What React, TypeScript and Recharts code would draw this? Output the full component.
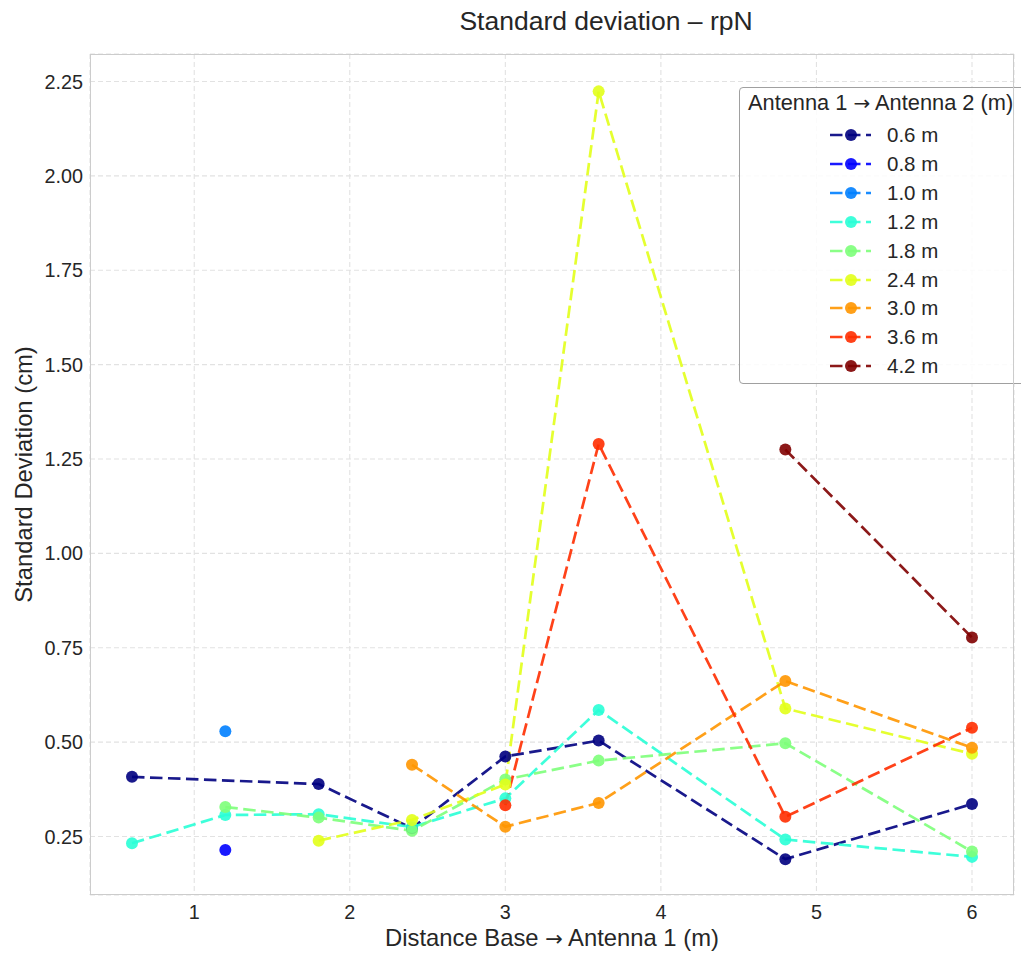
import { CartesianGrid, Legend, Line, LineChart, XAxis, YAxis } from "recharts";

// distance base -> antenna 1 (m)
const distances = [0.6, 1.2, 1.8, 2.4, 3.0, 3.6, 4.8, 6.0];

// std deviation (cm), one array per antenna1->antenna2 spacing
const sd06 = [0.408, null, 0.389, 0.272, 0.462, 0.504, 0.19, 0.336];
const sd08 = [null, 0.214, null, null, null, null, null, null];
const sd10 = [null, 0.529, null, null, null, null, null, null];
const sd12 = [0.232, 0.307, 0.309, 0.275, 0.351, 0.585, 0.242, 0.196];
const sd18 = [null, 0.328, 0.3, 0.265, 0.401, 0.451, 0.497, 0.21];
const sd24 = [null, null, 0.239, 0.294, 0.388, 2.224, 0.589, 0.469];
const sd30 = [null, null, null, 0.44, 0.276, 0.339, 0.662, 0.485];
const sd36 = [null, null, null, null, 0.333, 1.29, 0.302, 0.538];
const sd42 = [null, null, null, null, null, null, 1.275, 0.777];

const seriesNames = ["0.6 m", "0.8 m", "1.0 m", "1.2 m", "1.8 m", "2.4 m", "3.0 m", "3.6 m", "4.2 m"];
const seriesValues = [sd06, sd08, sd10, sd12, sd18, sd24, sd30, sd36, sd42];
const seriesColors = [
  "#00007f",
  "#0000ff",
  "#0080ff",
  "#29ffd6",
  "#7dff7a",
  "#e2ff1a",
  "#ff9600",
  "#ff2e00",
  "#7f0000",
];

const xTicks = [1, 2, 3, 4, 5, 6];
const yTicks = [0.25, 0.5, 0.75, 1.0, 1.25, 1.5, 1.75, 2.0, 2.25];

const rows = distances.map((x, i) => {
  const row: Record<string, number | null> = { x };
  seriesNames.forEach((name, s) => {
    row[name] = seriesValues[s][i];
  });
  return row;
});

const FONT = '"Liberation Sans", Arial, Helvetica, sans-serif';
const ARROW_FONT = '"DejaVu Sans", sans-serif';
const TEXT = "#262626";
const DASH = "12.5 5.5";

function makeDot(color: string) {
  return (props: any) => {
    const { cx, cy, key, value } = props;
    if (value == null || cx == null || cy == null) return <g key={key} />;
    return <circle key={key} cx={cx} cy={cy} r={6} fill={color} fillOpacity={0.9} stroke="none" />;
  };
}

function LegendBox() {
  return (
    <div
      style={{
        width: 300,
        height: 297,
        boxSizing: "border-box",
        border: "1.3px solid #a0a0a0",
        borderRadius: 4,
        background: "rgba(255,255,255,0.85)",
        fontFamily: FONT,
        color: TEXT,
        position: "relative",
      }}
    >
      <div style={{ position: "absolute", left: 8, top: 2, fontSize: 21.8, whiteSpace: "nowrap" }}>
        Antenna 1 <span style={{ fontFamily: ARROW_FONT, fontSize: 20 }}>→</span> Antenna 2 (m)
      </div>
      {seriesNames.map((name, i) => (
        <div
          key={name}
          style={{ position: "absolute", left: 0, top: 33 + i * 28.9, height: 28, width: 280 }}
        >
          <svg width={50} height={28} style={{ position: "absolute", left: 88, top: 0 }}>
            <line x1={2} x2={43} y1={14} y2={14} stroke={seriesColors[i]} strokeOpacity={0.9} strokeWidth={2.7} strokeDasharray={DASH} />
            <circle cx={23} cy={14} r={6} fill={seriesColors[i]} fillOpacity={0.9} />
          </svg>
          <span style={{ position: "absolute", left: 147, top: 2, fontSize: 20.5, whiteSpace: "nowrap" }}>
            {name}
          </span>
        </div>
      ))}
    </div>
  );
}

function XLabel() {
  return (
    <text x={552} y={946} textAnchor="middle" fill={TEXT} fontSize={23.8} fontFamily={FONT}>
      Distance Base{" "}
      <tspan fontFamily={ARROW_FONT} fontSize={21}>→</tspan>{" "}
      Antenna 1 (m)
    </text>
  );
}

export default function App() {
  return (
    <div style={{ position: "absolute", left: 0, top: 0, width: 1021, height: 954, background: "#fff" }}>
      <div
        style={{
          position: "absolute",
          left: 406,
          width: 400,
          top: 6,
          textAlign: "center",
          fontFamily: FONT,
          fontSize: 26.5,
          color: TEXT,
          whiteSpace: "nowrap",
        }}
      >
        Standard deviation – rpN
      </div>
      <LineChart
        width={1021}
        height={954}
        data={rows}
        margin={{ top: 54, right: 7, left: 0, bottom: 0 }}
        style={{ fontFamily: FONT }}
      >
        <CartesianGrid stroke="#e2e2e2" strokeWidth={1.1} strokeDasharray="5 3" />
        <XAxis
          dataKey="x"
          type="number"
          domain={[0.33, 6.27]}
          ticks={xTicks}
          allowDataOverflow
          axisLine={false}
          tickLine={false}
          tickSize={0}
          tickMargin={10}
          height={59}
          tick={{ fill: TEXT, fontSize: 19.8 }}
          label={{ content: () => <XLabel /> }}
        />
        <YAxis
          type="number"
          domain={[0.095, 2.323]}
          ticks={yTicks}
          allowDataOverflow
          width={90}
          axisLine={false}
          tickLine={false}
          tickSize={0}
          tickMargin={7}
          tickFormatter={(v: number) => v.toFixed(2)}
          tick={{ fill: TEXT, fontSize: 19.8 }}
          label={{
            value: "Standard Deviation (cm)",
            angle: -90,
            position: "insideLeft",
            offset: 24,
            style: { textAnchor: "middle" },
            fill: TEXT,
            fontSize: 23.8,
          }}
        />
        {seriesNames.map((name, i) => (
          <Line
            key={name}
            dataKey={name}
            name={name}
            type="linear"
            connectNulls
            stroke={seriesColors[i]}
            strokeOpacity={0.9}
            strokeWidth={2.7}
            strokeDasharray={DASH}
            dot={makeDot(seriesColors[i])}
            activeDot={false}
            isAnimationActive={false}
          />
        ))}
        <Legend
          layout="vertical"
          align="center"
          verticalAlign="middle"
          content={() => <LegendBox />}
          wrapperStyle={{ left: 739, top: 87, width: 300, height: 297 }}
        />
      </LineChart>
      <div
        style={{
          position: "absolute",
          left: 90,
          top: 54,
          width: 924,
          height: 841,
          boxSizing: "border-box",
          border: "1.5px solid #cccccc",
          pointerEvents: "none",
        }}
      />
    </div>
  );
}
